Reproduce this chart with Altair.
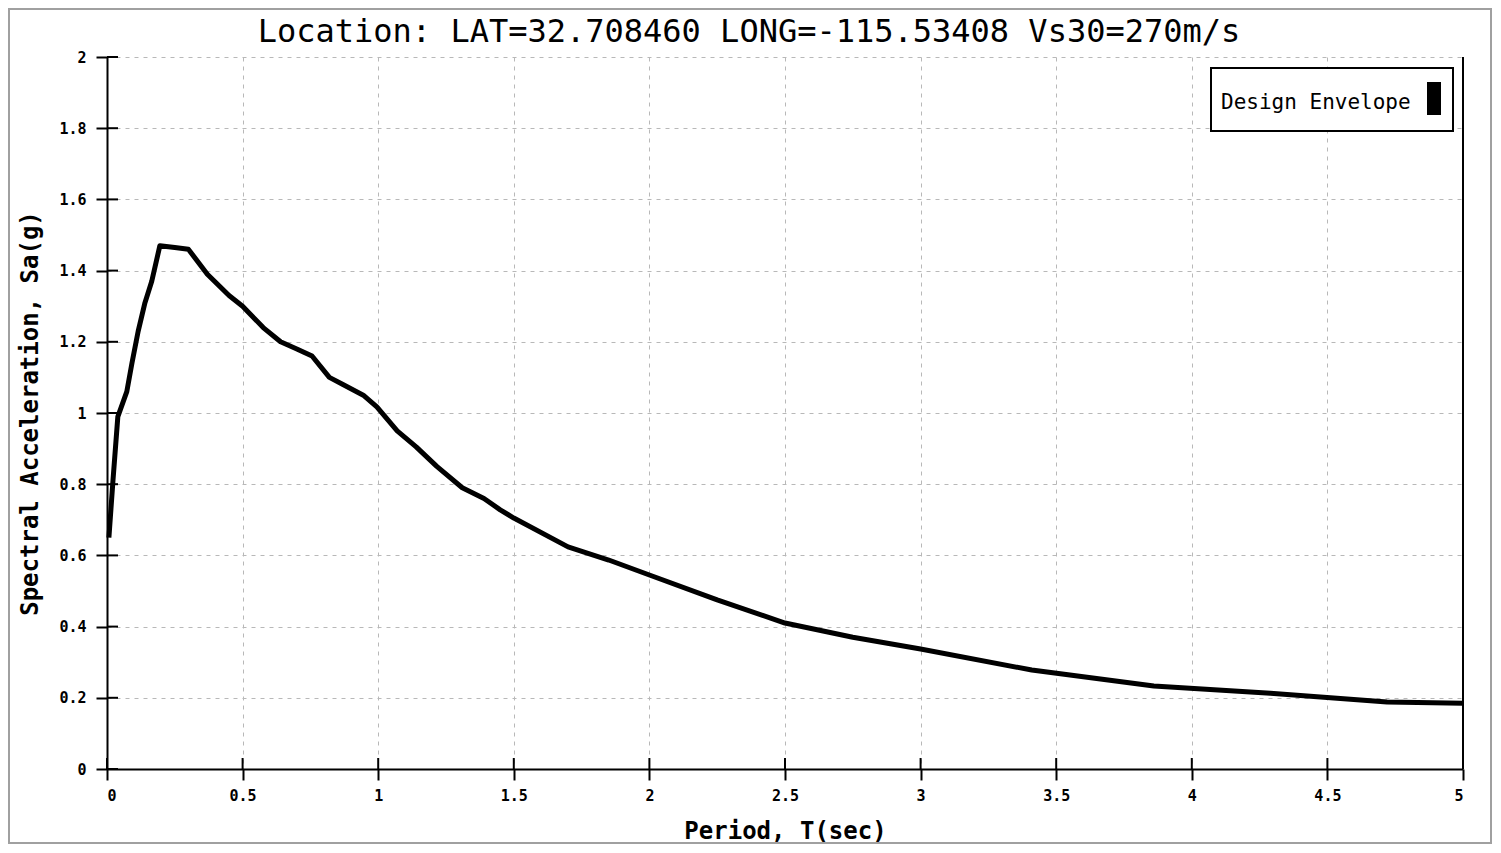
import altair as alt
import pandas as pd

# ---- data ----
period = [0.007, 0.022, 0.04, 0.073, 0.092, 0.115, 0.14, 0.165, 0.195, 0.25, 0.30,
          0.37, 0.45, 0.50, 0.576, 0.64, 0.70, 0.756, 0.82, 0.87, 0.945, 0.995,
          1.07, 1.14, 1.216, 1.31, 1.39, 1.45, 1.50, 1.70, 1.85, 2.00, 2.25, 2.50,
          2.75, 3.00, 3.41, 3.86, 4.29, 4.72, 5.00]
sa = [0.65, 0.81, 0.99, 1.06, 1.14, 1.23, 1.31, 1.37, 1.47, 1.465, 1.46,
      1.39, 1.33, 1.30, 1.24, 1.20, 1.18, 1.16, 1.10, 1.08, 1.05, 1.017,
      0.95, 0.905, 0.85, 0.79, 0.76, 0.728, 0.705, 0.624, 0.587, 0.545, 0.475, 0.41,
      0.37, 0.337, 0.278, 0.233, 0.213, 0.188, 0.185]
x_ticks = [0, 0.5, 1, 1.5, 2, 2.5, 3, 3.5, 4, 4.5, 5]
y_ticks = [0, 0.2, 0.4, 0.6, 0.8, 1, 1.2, 1.4, 1.6, 1.8, 2]
series_names = ["Design Envelope"]
title_text = "Location: LAT=32.708460 LONG=-115.53408 Vs30=270m/s"

FONT = "DejaVu Sans Mono"
W, H = 1356, 712

df = pd.DataFrame({"T": period, "Sa": sa})
xt = pd.DataFrame({"T": x_ticks})
yt = pd.DataFrame({"Sa": y_ticks})
leg = pd.DataFrame({"name": series_names})

xscale = alt.Scale(domain=[0, 5], nice=False, zero=False)
yscale = alt.Scale(domain=[0, 2], nice=False)
xaxis = alt.Axis(values=x_ticks, format="~g", title="Period, T(sec)")
yaxis = alt.Axis(values=y_ticks, format="~g", title="Spectral Acceleration, Sa(g)")

line = alt.Chart(df).mark_line(color="black", strokeWidth=5, strokeJoin="round").encode(
    x=alt.X("T:Q", scale=xscale, axis=xaxis),
    y=alt.Y("Sa:Q", scale=yscale, axis=yaxis),
)

# inward half of the cross-shaped ticks
xin = alt.Chart(xt).mark_rule(color="black", strokeWidth=2).encode(
    x=alt.X("T:Q", scale=xscale, axis=xaxis),
    y=alt.value(H), y2=alt.value(H - 11),
)
yin = alt.Chart(yt).mark_rule(color="black", strokeWidth=2).encode(
    y=alt.Y("Sa:Q", scale=yscale, axis=yaxis),
    x=alt.value(0), x2=alt.value(11),
)

right_edge = alt.Chart(leg).mark_rule(color="black", strokeWidth=2).encode(
    x=alt.value(W), y=alt.value(0), y2=alt.value(H)
)

outer = alt.Chart(leg).mark_rect(fill=None, stroke="#a0a0a0", strokeWidth=2).encode(
    x=alt.value(-98), x2=alt.value(1384), y=alt.value(-48), y2=alt.value(786)
)

leg_box = alt.Chart(leg).mark_rect(fill="white", stroke="black", strokeWidth=2).encode(
    x=alt.value(1104), x2=alt.value(1346), y=alt.value(11), y2=alt.value(74)
)
leg_sw = alt.Chart(leg).mark_rect(fill="black").encode(
    x=alt.value(1320), x2=alt.value(1334), y=alt.value(25), y2=alt.value(58)
)
leg_txt = alt.Chart(leg).mark_text(font=FONT, fontSize=21, align="left",
                                   baseline="middle", color="black").encode(
    x=alt.value(1114), y=alt.value(46), text="name:N"
)

chart = alt.layer(line, xin, yin, right_edge, outer, leg_box, leg_sw, leg_txt).properties(
    width=W, height=H,
    title=alt.TitleParams(title_text, font=FONT, fontSize=32, fontWeight="normal",
                          anchor="middle", dx=-36, offset=-66, baseline="alphabetic",
                          color="black"),
    autosize=alt.AutoSizeParams(type="none"),
    padding={"left": 99, "top": 49, "right": 30, "bottom": 76},
).configure_view(stroke=None).configure_axis(
    domainColor="black", domainWidth=2, tickColor="black", tickWidth=2, tickSize=11,
    labelFont=FONT, labelFontSize=15, labelFontWeight="bold", labelColor="black",
    titleFont=FONT, titleFontSize=24, titleFontWeight="bold", titleColor="black",
    gridColor="#b8b8b8", gridDash=[4, 5], gridWidth=1,
).configure_axisX(labelPadding=8, titlePadding=16).configure_axisY(
    labelPadding=10, titlePadding=16)

chart.save("out.html", embed_options={"renderer": "svg", "actions": False})
